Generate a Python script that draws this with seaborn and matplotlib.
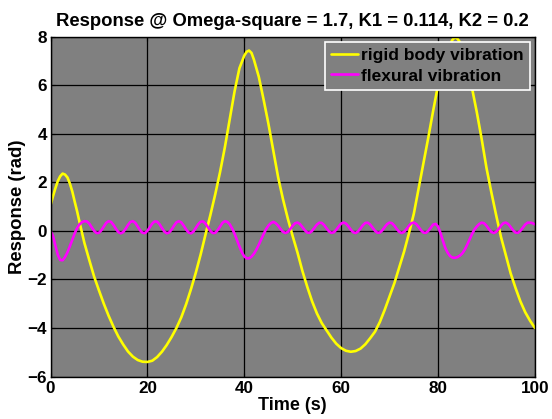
import numpy as np
import pandas as pd
import matplotlib
matplotlib.use("Agg")
import matplotlib.pyplot as plt
import seaborn as sns

# ---- data ----
rigid_time = (
    [0, 0.5, 1, 1.5, 2, 2.5, 3, 3.5, 4, 4.5, 5, 5.5, 6]
    + list(range(7, 40))
    + [40, 40.5, 41, 41.5, 42]
    + list(range(43, 83))
    + [83, 83.5, 84, 84.5, 85]
    + list(range(86, 101))
)
rigid_vals = (
    [1.05, 1.42, 1.75, 2.05, 2.25, 2.36, 2.32, 2.2, 1.95, 1.62, 1.2, 0.8, 0.35]
    + [-0.5, -1.2, -1.88,
       -2.45, -3.0, -3.5, -3.95, -4.35, -4.68, -4.97, -5.18, -5.32, -5.39,
       -5.4, -5.35, -5.2, -4.98, -4.7, -4.37, -4.0, -3.56, -3.02, -2.4,
       -1.72, -0.97, -0.15, 0.65, 1.5, 2.42, 3.45, 4.6, 5.75, 6.7]
    + [7.22, 7.38, 7.43, 7.33, 7.05]
    + [6.35, 5.4, 4.4, 3.3, 2.2, 1.3, 0.5,
       -0.22, -0.9, -1.65, -2.3, -2.9, -3.4, -3.8, -4.1, -4.4, -4.65,
       -4.83, -4.94, -4.98, -4.95, -4.85, -4.67, -4.42, -4.15, -3.75, -3.25,
       -2.7, -2.15, -1.5, -0.85, -0.1, 0.7, 1.75, 2.8, 3.85, 4.95,
       6.0, 6.85, 7.5]
    + [7.88, 7.98, 7.92, 7.78, 7.5]
    + [6.8, 5.9, 4.9, 3.8,
       2.6, 1.6, 0.65, -0.25, -1.0, -1.75, -2.35, -2.9, -3.35, -3.7,
       -4.0]
)

flex_time = [i * 0.5 for i in range(0, 201)]
flex_vals = [
    # 0.0 - 9.5
    0.0, -0.2, -0.6, -0.98, -1.2, -1.21, -1.08, -0.88, -0.63, -0.36,
    -0.1, 0.12, 0.27, 0.36, 0.4, 0.39, 0.30, 0.15, 0.0, -0.09,
    # 10.0 - 19.5
    -0.08, 0.025, 0.18, 0.33, 0.40, 0.37, 0.245, 0.085, -0.05, -0.10,
    -0.05, 0.085, 0.245, 0.37, 0.40, 0.33, 0.18, 0.025, -0.08, -0.09,
    # 20.0 - 29.5
    0.0, 0.15, 0.30, 0.39, 0.38, 0.275, 0.12, -0.03, -0.10, -0.065,
    0.055, 0.215, 0.35, 0.40, 0.35, 0.215, 0.055, -0.065, -0.10, -0.03,
    # 30.0 - 39.5
    0.12, 0.275, 0.38, 0.39, 0.30, 0.15, 0.0, -0.09, -0.08, 0.025,
    0.18, 0.33, 0.40, 0.37, 0.27, 0.1, -0.12, -0.38, -0.64, -0.88,
    # 40.0 - 49.5
    -1.05, -1.13, -1.13, -1.06, -0.94, -0.77, -0.57, -0.35, -0.13, 0.07,
    0.22, 0.32, 0.37, 0.316, 0.212, 0.074, -0.04, -0.085, -0.04, 0.074,
    # 50.0 - 59.5
    0.212, 0.316, 0.343, 0.282, 0.158, 0.023, -0.069, -0.078, 0.0, 0.13,
    0.261, 0.338, 0.329, 0.237, 0.102, -0.022, -0.083, -0.056, 0.048, 0.186,
    # 60.0 - 69.5
    0.30, 0.345, 0.30, 0.186, 0.048, -0.056, -0.085, -0.022, 0.102, 0.237,
    0.329, 0.338, 0.261, 0.13, 0.0, -0.078, -0.069, 0.023, 0.158, 0.282,
    # 70.0 - 79.5
    0.343, 0.316, 0.212, 0.074, -0.04, -0.085, -0.04, 0.074, 0.212, 0.316,
    0.343, 0.282, 0.158, 0.023, -0.069, -0.078, 0.0, 0.13, 0.26, 0.29,
    # 80.0 - 89.5
    0.18, -0.08, -0.4, -0.7, -0.9, -1.04, -1.1, -1.11, -1.08, -1.02,
    -0.93, -0.78, -0.58, -0.36, -0.14, 0.05, 0.18, 0.28, 0.34, 0.316,
    # 90.0 - 100.0
    0.212, 0.074, -0.04, -0.085, -0.04, 0.074, 0.212, 0.316, 0.343, 0.282,
    0.158, 0.023, -0.069, -0.078, 0.0, 0.13, 0.261, 0.338, 0.34, 0.32,
    0.27,
]

series_names = ["rigid body vibration", "flexural vibration"]
series_colors = ["#FFFF00", "#FF00FF"]
x_ticks = [0, 20, 40, 60, 80, 100]
y_ticks = [-6, -4, -2, 0, 2, 4, 6, 8]
title_text = "Response @ Omega-square = 1.7, K1 = 0.114, K2 = 0.2"
x_label = "Time (s)"
y_label = "Response (rad)"

# ---- styling ----
sns.set_theme(style="whitegrid", rc={
    "axes.facecolor": "#808080",
    "figure.facecolor": "white",
    "axes.edgecolor": "black",
    "grid.color": "black",
    "grid.linewidth": 0.9,
    "axes.linewidth": 1.0,
    "xtick.direction": "in",
    "ytick.direction": "in",
    "xtick.bottom": True,
    "ytick.left": True,
    "xtick.top": True,
    "ytick.right": True,
    "text.color": "black",
    "axes.labelcolor": "black",
    "xtick.color": "black",
    "ytick.color": "black",
})
plt.rcParams["font.family"] = ["Liberation Sans", "DejaVu Sans"]
plt.rcParams["font.weight"] = "bold"

fig = plt.figure(figsize=(5.52, 4.19), dpi=100)
ax = fig.add_axes([0.0915, 0.1014, 0.8775, 0.811])

df_r = pd.DataFrame({"t": rigid_time, "v": rigid_vals})
df_f = pd.DataFrame({"t": flex_time, "v": flex_vals})
sns.lineplot(data=df_r, x="t", y="v", ax=ax, color=series_colors[0],
             linewidth=1.9, label=series_names[0])
sns.lineplot(data=df_f, x="t", y="v", ax=ax, color=series_colors[1],
             linewidth=1.9, label=series_names[1])

ax.set_xlim(0, 100)
ax.set_ylim(-6, 8)
ax.set_xticks(x_ticks)
ax.set_yticks(y_ticks)
ax.tick_params(axis="both", labelsize=12.3, length=3, width=0.8,
               color="black", labelcolor="black")
ax.tick_params(axis="x", pad=3)
ax.tick_params(axis="y", pad=2.5)
for lab in ax.get_xticklabels() + ax.get_yticklabels():
    lab.set_fontweight("bold")
ax.set_xlabel(x_label, fontsize=13, fontweight="bold", labelpad=1, color="black")
ax.set_ylabel(y_label, fontsize=13.3, fontweight="bold", labelpad=1, color="black")
ax.set_title(title_text, fontsize=13.3, fontweight="bold", pad=8, color="black")
ax.grid(True, color="black", linewidth=0.9)
for s in ax.spines.values():
    s.set_visible(True)
    s.set_color("black")

leg = ax.legend(loc="upper right", fontsize=12.5, frameon=True,
                fancybox=False, borderaxespad=0.3, handlelength=1.55,
                handletextpad=0.15, borderpad=0.35, labelspacing=0.3)
leg.get_frame().set_facecolor("#808080")
leg.get_frame().set_edgecolor("white")
leg.get_frame().set_alpha(1.0)
leg.get_frame().set_linewidth(1.2)
for txt in leg.get_texts():
    txt.set_fontweight("bold")
    txt.set_color("black")

fig.savefig("out.png", dpi=100)
